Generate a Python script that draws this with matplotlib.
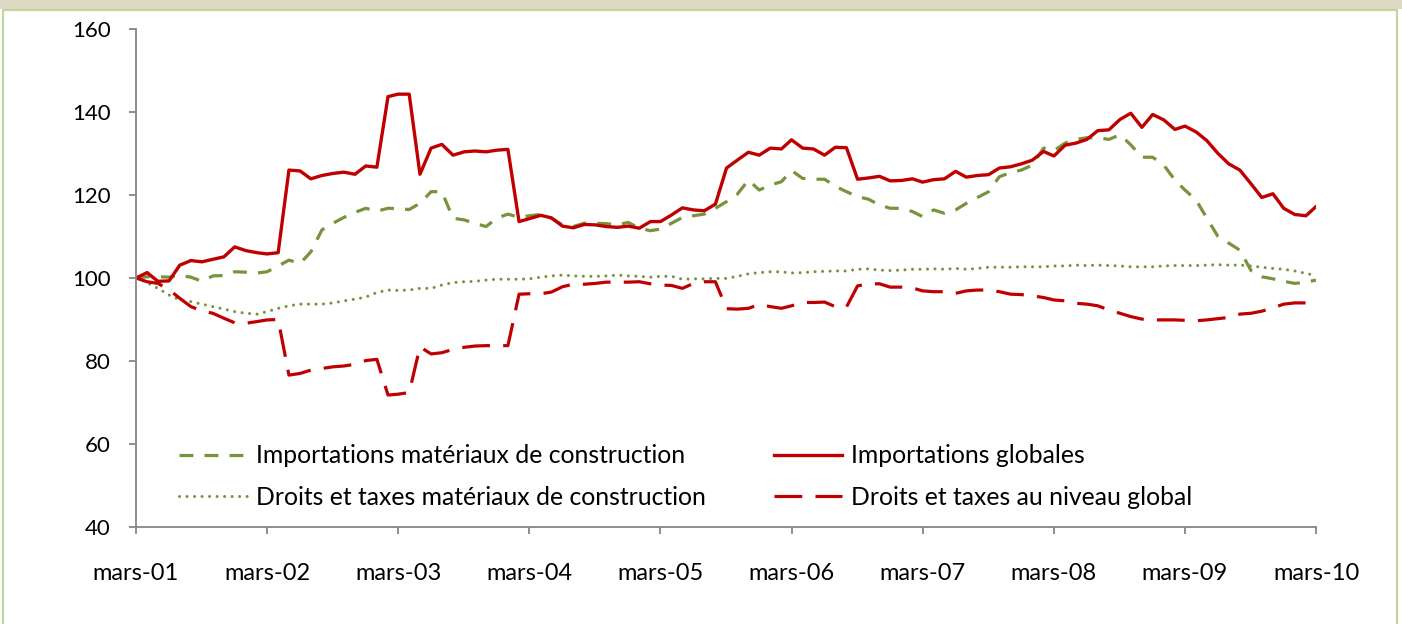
import matplotlib
matplotlib.use("Agg")
import matplotlib.pyplot as plt
import numpy as np
import pandas as pd
from matplotlib.patches import Rectangle

# monthly index, mars-01 .. mars-10
months = pd.date_range("2001-03-01", periods=109, freq="MS")
tick_labels = ["mars-01", "mars-02", "mars-03", "mars-04", "mars-05",
               "mars-06", "mars-07", "mars-08", "mars-09", "mars-10"]

imp_globales = [
    100.0, 101.3, 99.2, 99.3, 103.1, 104.2, 103.9, 104.5, 105.1, 107.5,
    106.6, 106.1, 105.8, 106.1, 126.0, 125.8, 123.9, 124.7, 125.2, 125.5,
    125.0, 127.0, 126.7, 143.7, 144.3, 144.3, 125.0, 131.3, 132.2, 129.6,
    130.4, 130.6, 130.4, 130.8, 131.0, 113.6, 114.3, 115.1, 114.5, 112.5,
    112.1, 112.9, 112.8, 112.4, 112.2, 112.5, 112.0, 113.6, 113.6, 115.2,
    116.9, 116.4, 116.2, 117.8, 126.5, 128.4, 130.3, 129.6, 131.3, 131.1,
    133.3, 131.3, 131.1, 129.6, 131.5, 131.4, 123.8, 124.1, 124.5, 123.4,
    123.5, 123.9, 123.1, 123.7, 123.9, 125.7, 124.3, 124.7, 124.9, 126.5,
    126.8, 127.5, 128.4, 130.5, 129.4, 132.0, 132.5, 133.4, 135.5, 135.7,
    138.2, 139.7, 136.3, 139.4, 138.1, 135.8, 136.6, 135.2, 133.1, 130.0,
    127.5, 126.0, 122.7, 119.4, 120.3, 116.8, 115.3, 115.0, 117.2,
]

imp_materiaux = [
    100.0, 100.3, 100.3, 100.2, 100.6, 100.2, 99.2, 100.5, 100.6, 101.5,
    101.4, 101.2, 101.5, 102.9, 104.3, 103.5, 106.3, 111.6, 113.2, 114.6,
    115.8, 116.8, 116.1, 116.8, 116.7, 116.5, 118.0, 120.8, 120.8, 114.4,
    114.0, 113.2, 112.4, 114.4, 115.4, 114.6, 115.0, 115.3, 114.4, 112.8,
    112.4, 113.2, 113.2, 113.1, 112.8, 113.4, 112.0, 111.4, 111.8, 113.2,
    114.6, 115.0, 115.4, 116.8, 118.4, 120.2, 123.6, 121.2, 122.4, 123.2,
    125.9, 124.0, 123.8, 123.8, 122.1, 120.8, 119.6, 119.0, 117.6, 116.8,
    116.8, 116.0, 114.8, 116.4, 115.6, 116.4, 118.0, 119.4, 120.8, 124.4,
    125.4, 126.0, 127.2, 131.3, 130.7, 132.5, 133.4, 133.8, 133.8, 133.4,
    134.5, 132.1, 129.1, 129.1, 127.2, 123.6, 121.2, 118.8, 114.4, 110.0,
    108.4, 106.7, 101.8, 100.3, 99.8, 99.2, 98.7, 99.0, 99.5,
]

dt_materiaux = [
    100.0, 98.9, 97.5, 95.9, 94.7, 94.3, 93.7, 93.1, 92.5, 91.9,
    91.5, 91.3, 91.9, 92.7, 93.3, 93.7, 93.7, 93.7, 94.0, 94.5,
    94.9, 95.4, 96.5, 97.1, 97.0, 97.1, 97.5, 97.5, 98.3, 98.9,
    99.1, 99.2, 99.5, 99.7, 99.7, 99.7, 99.8, 100.2, 100.5, 100.7,
    100.5, 100.4, 100.4, 100.5, 100.7, 100.5, 100.4, 100.2, 100.4, 100.4,
    99.7, 99.8, 99.8, 99.9, 99.9, 100.4, 101.0, 101.3, 101.5, 101.5,
    101.2, 101.3, 101.5, 101.6, 101.7, 101.7, 102.1, 102.2, 101.9, 101.8,
    101.9, 102.1, 102.1, 102.2, 102.1, 102.3, 102.1, 102.3, 102.6, 102.6,
    102.6, 102.7, 102.7, 102.7, 102.9, 102.9, 103.1, 103.0, 103.1, 103.0,
    102.9, 102.7, 102.7, 102.7, 102.9, 103.0, 103.0, 103.0, 103.1, 103.2,
    103.1, 103.1, 102.9, 102.6, 102.3, 102.1, 101.7, 101.1, 100.6,
]

dt_global = [
    100.0, 99.1, 98.7, 97.2, 95.1, 93.1, 92.1, 91.5, 90.3, 89.2,
    89.1, 89.5, 89.9, 90.0, 76.6, 77.0, 77.8, 78.2, 78.6, 78.8,
    79.2, 80.1, 80.4, 71.8, 72.0, 72.4, 83.4, 81.7, 82.0, 82.8,
    83.3, 83.6, 83.7, 83.7, 83.7, 96.1, 96.2, 96.2, 96.6, 97.9,
    98.5, 98.5, 98.7, 99.0, 99.0, 99.0, 99.1, 98.6, 98.3, 98.2,
    97.5, 98.7, 99.1, 99.1, 92.6, 92.5, 92.7, 93.6, 93.1, 92.7,
    93.3, 94.1, 94.1, 94.2, 93.1, 93.0, 98.1, 98.6, 98.6, 97.8,
    97.8, 97.6, 96.9, 96.7, 96.7, 96.3, 96.9, 97.1, 97.1, 96.7,
    96.1, 96.0, 95.7, 95.3, 94.7, 94.5, 93.9, 93.7, 93.3, 92.3,
    91.5, 90.7, 90.1, 89.9, 89.9, 89.9, 89.8, 89.7, 89.9, 90.2,
    90.5, 91.3, 91.5, 92.0, 92.8, 93.7, 94.0, 94.0, 92.5,
]

RED = "#C00000"
GREEN = "#77933C"
AXIS_GREY = "#868686"

plt.rcParams["font.family"] = ["Lato", "DejaVu Sans"]
plt.rcParams["lines.scale_dashes"] = False

fig = plt.figure(figsize=(14.02, 6.24), dpi=100)
ax = fig.add_axes([136 / 1402, 1 - 527 / 624, (1316 - 136) / 1402, (527 - 29) / 624])

# beige strip of the (cut) title area + light green frame
fig.patches.append(Rectangle((0, 1 - 9 / 624), 1, 9 / 624, transform=fig.transFigure,
                             facecolor="#DDD9C3", edgecolor="none", zorder=0))
fig.patches.append(Rectangle((3 / 1402, -0.05), 1394 / 1402, 1 - 10 / 624 + 0.05,
                             transform=fig.transFigure, facecolor="none",
                             edgecolor="#C3D69B", linewidth=1.6, zorder=0))

l1, = ax.plot(months, imp_materiaux, color=GREEN, lw=2.3, dashes=(10, 8),
              label="Importations matériaux de construction")
l2, = ax.plot(months, imp_globales, color=RED, lw=2.4, solid_joinstyle="round",
              label="Importations globales")
l3, = ax.plot(months, dt_materiaux, color=GREEN, lw=2.2, dashes=(0.01, 5.4),
              dash_capstyle="round", label="Droits et taxes matériaux de construction")
l4, = ax.plot(months, dt_global, color=RED, lw=2.3, dashes=(20, 9.5),
              label="Droits et taxes au niveau global")

ax.set_ylim(40, 160)
ax.set_yticks(np.arange(40, 161, 20))
ax.set_xlim(months[0], months[-1])
xt = months[::12]
ax.set_xticks(xt)
ax.set_xticklabels(tick_labels)

for side in ["top", "right"]:
    ax.spines[side].set_visible(False)
for side in ["left", "bottom"]:
    ax.spines[side].set_color(AXIS_GREY)
    ax.spines[side].set_linewidth(1.3)

ax.tick_params(axis="y", colors=AXIS_GREY, labelcolor="black", labelsize=16,
               length=5, width=1.3, pad=13)
ax.tick_params(axis="x", colors=AXIS_GREY, labelcolor="black", labelsize=17,
               length=5, width=1.3, pad=21)

# row-wise order like the original (ncol fills column by column)
leg = ax.legend([l1, l3, l2, l4], [l.get_label() for l in (l1, l3, l2, l4)],
                loc="lower left", bbox_to_anchor=(0.018, -0.008), ncol=2,
                frameon=False, fontsize=17.8, handlelength=2.75,
                handletextpad=0.36, columnspacing=2.75, labelspacing=0.75)

fig.savefig("out.png", dpi=100)
